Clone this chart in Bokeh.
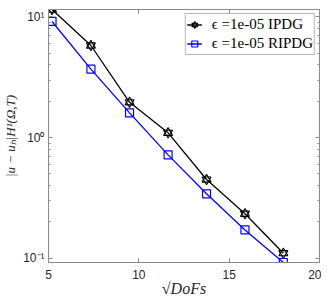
from bokeh.plotting import figure
from bokeh.models import (LinearAxis, LogAxis, Legend, LegendItem,
                          CustomJSTickFormatter, FixedTicker, Range1d, LogTicker)
from bokeh.embed import file_html
from bokeh.resources import INLINE

# ---- data ----
sqrt_dofs = [5.196, 7.348, 9.487, 11.619, 13.748, 15.875, 18.0]
err_ipdg = [11.54, 5.80, 1.96, 1.094, 0.448, 0.233, 0.1096]
err_ripdg = [9.18, 3.69, 1.60, 0.718, 0.341, 0.171, 0.0918]
x_ticks = [5, 10, 15, 20]
label_ipdg = "ϵ =1e-05 IPDG"
label_ripdg = "ϵ =1e-05 RIPDG"
x_label = "√DoFs"
y_label = "|u − uₕ|H¹(Ω,T)"

AX = "#8a8a8a"
TXT = "#262626"

p = figure(width=321, height=300, y_axis_type="log",
           x_range=Range1d(5, 20),
           y_range=Range1d(min(err_ripdg), max(err_ipdg)),
           output_backend="svg", toolbar_location=None,
           min_border_left=45, min_border_right=2,
           min_border_top=9, min_border_bottom=38)
p.background_fill_color = "white"
p.border_fill_color = "white"
p.outline_line_color = AX
p.grid.visible = False

# bottom axis
xa = p.xaxis[0]
xa.ticker = FixedTicker(ticks=x_ticks)
# left axis
ya = p.yaxis[0]
ya.ticker = LogTicker(num_minor_ticks=10)
ya.formatter = CustomJSTickFormatter(code="""
const sup = {"-":"\u207b","0":"\u2070","1":"\u00b9","2":"\u00b2","3":"\u00b3",
             "4":"\u2074","5":"\u2075","6":"\u2076","7":"\u2077","8":"\u2078","9":"\u2079"};
const e = Math.round(Math.log10(tick));
return "10" + String(e).split("").map(c => sup[c]).join("");
""")
for ax in (xa, ya):
    ax.axis_line_color = AX
    ax.major_tick_line_color = AX
    ax.minor_tick_line_color = AX if ax is ya else None
    ax.major_tick_in = 4
    ax.major_tick_out = 0
    ax.minor_tick_in = 2
    ax.minor_tick_out = 0
    ax.major_label_text_font = "Liberation Sans"
    ax.major_label_text_color = TXT
    ax.axis_label_text_font = "Liberation Serif"
    ax.axis_label_text_font_style = "italic"
    ax.axis_label_text_color = TXT
xa.major_label_text_font_size = "12px"
xa.major_label_standoff = 7
xa.axis_label = x_label
xa.axis_label_text_font_size = "16px"
xa.axis_label_standoff = -2
ya.major_label_text_font_size = "12px"
ya.major_label_standoff = 4
ya.axis_label = y_label
ya.axis_label_text_font_size = "13px"
ya.axis_label_standoff = 2

# top and right axes (ticks only)
empty = CustomJSTickFormatter(code="return '';")
top = LinearAxis(ticker=FixedTicker(ticks=x_ticks), formatter=empty)
right = LogAxis(ticker=LogTicker(num_minor_ticks=10), formatter=empty)
for ax in (top, right):
    ax.axis_line_color = AX
    ax.major_tick_line_color = AX
    ax.minor_tick_line_color = AX if ax is right else None
    ax.major_tick_in = 4
    ax.major_tick_out = 0
    ax.minor_tick_in = 2
    ax.minor_tick_out = 0
    ax.major_label_text_font_size = "0px"
    ax.major_label_standoff = 0
p.add_layout(top, "above")
p.add_layout(right, "right")

# series
lb = p.line(sqrt_dofs, err_ipdg, line_color="black", line_width=1.3)
t1 = p.scatter(sqrt_dofs, err_ipdg, marker="triangle", size=9,
               line_color="black", fill_color=None, line_width=1.1)
t2 = p.scatter(sqrt_dofs, err_ipdg, marker="inverted_triangle", size=9,
               line_color="black", fill_color=None, line_width=1.1)
lr = p.line(sqrt_dofs, err_ripdg, line_color="#0000ff", line_width=1.3)
sq = p.scatter(sqrt_dofs, err_ripdg, marker="square", size=8,
               line_color="#0000ff", fill_color=None, line_width=1.2)

legend = Legend(items=[LegendItem(label=label_ipdg, renderers=[lb, t1, t2]),
                       LegendItem(label=label_ripdg, renderers=[lr, sq])],
                location="top_right", margin=4, padding=1, spacing=0,
                label_height=19, glyph_height=19, glyph_width=15,
                label_standoff=10,
                label_text_font="Liberation Serif", label_text_font_size="15px",
                label_text_color="black",
                border_line_color="#6e6e6e", border_line_width=1,
                background_fill_color="white", background_fill_alpha=1)
p.add_layout(legend)

open("out.html", "w").write(file_html(p, INLINE))
